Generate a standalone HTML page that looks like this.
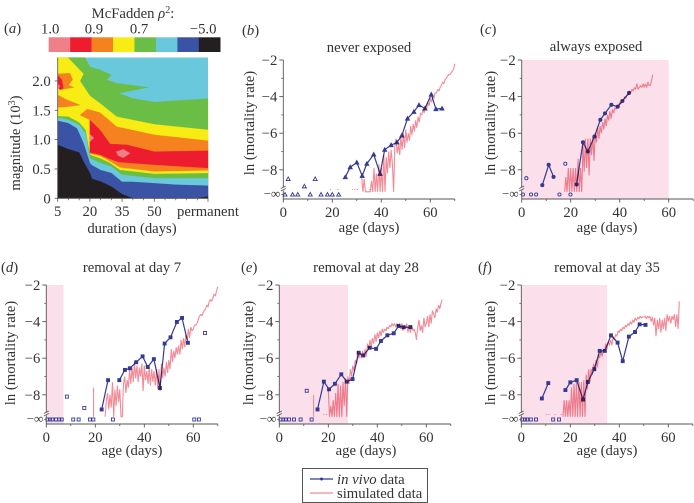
<!DOCTYPE html>
<html lang="en">
<head>
<meta charset="utf-8">
<title>McFadden contour and mortality rate panels</title>
<style>
html,body{margin:0;padding:0;background:#fff;}
body{width:694px;height:503px;overflow:hidden;}
svg{display:block;filter:blur(0.35px);}
text{font-family:"Liberation Serif",serif;font-size:14.7px;fill:#333;}
.mid{text-anchor:middle;}
</style>
</head>
<body>
<svg id="figure" width="694" height="503" viewBox="0 0 694 503" xmlns="http://www.w3.org/2000/svg">
  <g id="panel-a"></g>
  <g id="panel-b"></g>
  <g id="panel-c"></g>
  <g id="panel-d"></g>
  <g id="panel-e"></g>
  <g id="panel-f"></g>

  <text x="4" y="33">(<tspan font-style="italic">a</tspan>)</text>
  <text x="242" y="35">(<tspan font-style="italic">b</tspan>)</text>
  <text x="480" y="34">(<tspan font-style="italic">c</tspan>)</text>
  <text x="1" y="272">(<tspan font-style="italic">d</tspan>)</text>
  <text x="241" y="272">(<tspan font-style="italic">e</tspan>)</text>
  <text x="478" y="272">(<tspan font-style="italic">f</tspan>)</text>

  <text class="mid" x="133" y="18">McFadden <tspan font-style="italic">ρ</tspan><tspan font-size="10" dy="-5">2</tspan><tspan dy="5">:</tspan></text>
  <text class="mid" x="132" y="233">duration (days)</text>
  <text class="mid" transform="translate(20,143) rotate(-90)">magnitude (10<tspan font-size="10" dy="-5">3</tspan><tspan dy="5">)</tspan></text>

  <text class="mid" x="369" y="52">never exposed</text>
  <text class="mid" x="596" y="51">always exposed</text>
  <text class="mid" x="132" y="272">removal at day 7</text>
  <text class="mid" x="366" y="272">removal at day 28</text>
  <text class="mid" x="607" y="272">removal at day 35</text>

  <text class="mid" transform="translate(254,123) rotate(-90)">ln (mortality rate)</text>
  <text class="mid" transform="translate(495,123) rotate(-90)">ln (mortality rate)</text>
  <text class="mid" transform="translate(15,353) rotate(-90)">ln (mortality rate)</text>
  <text class="mid" transform="translate(253,353) rotate(-90)">ln (mortality rate)</text>
  <text class="mid" transform="translate(495,353) rotate(-90)">ln (mortality rate)</text>

  <text class="mid" x="369" y="232">age (days)</text>
  <text class="mid" x="607" y="232">age (days)</text>
  <text class="mid" x="132" y="455">age (days)</text>
  <text class="mid" x="366" y="455">age (days)</text>
  <text class="mid" x="607" y="455">age (days)</text>

  <g>
    <rect x="302.5" y="468.5" width="125" height="34" fill="#fff" stroke="#555" stroke-width="1"/>
    <line x1="310" y1="479" x2="333" y2="479" stroke="#343a94" stroke-width="1.2"/>
    <circle cx="321.5" cy="479" r="1.5" fill="#343a94"/>
    <text x="337" y="484"><tspan font-style="italic">in vivo</tspan> data</text>
    <line x1="310" y1="493" x2="333" y2="493" stroke="#f28b97" stroke-width="1.2"/>
    <text x="337" y="498">simulated data</text>
  </g>
</svg>

<script>
// ---------- Panel (a): contour boundaries, duration (days) and magnitude (10^3) ----------
var colorbarColors = ['#f08088', '#ed1c2e', '#f5821f', '#f7ec13', '#6abd45', '#6ac8dc', '#3a53a4', '#231f20'];
var colorbarLabels = ['1.0', '0.9', '0.7', '−5.0'];
var colorbarLabelCells = [0.07, 2.11, 4.21, 7.2];
var magnitudeTicks = [0, 0.5, 1.0, 1.5, 2.0];
var magnitudeTickLabels = ['0', '0.5', '1.0', '1.5', '2.0'];
var durationTicks = [5, 20, 35, 50, 75];
var durationTickLabels = ['5', '20', '35', '50', 'permanent'];
var durationMinorTicks = [10, 15, 25, 30, 40, 45, 55, 60, 65, 70];

var greenCeilDur = [5, 17.7, 20, 24.7, 30, 27.8, 32.5, 47.2, 33.3, 40.2, 50, 75];
var greenCeilMag = [2.4, 2.4, 2.24, 2.19, 2.1, 2.02, 1.96, 1.89, 1.79, 1.70, 1.64, 1.7];
var yellowCeilDur = [5, 9.7, 17, 15.4, 20, 24.7, 32.5, 50, 75];
var yellowCeilMag = [2.4, 2.4, 2.12, 2.0, 1.745, 1.62, 1.39, 1.26, 1.165];
var orangeIslandDur = [5, 10.7, 12, 10, 12.6, 6.1, 5];
var orangeIslandMag = [2.12, 2.13, 2.02, 1.93, 1.89, 1.85, 1.89];
var redIslandDur = [5, 6.9, 7.6, 6.1, 5];
var redIslandMag = [2.1, 2.02, 1.875, 1.85, 1.9];
var pinkIslandDur = [5, 6.1, 5];
var pinkIslandMag = [1.96, 1.9, 1.87];
var orangeLowIslandDur = [5, 9.2, 15.4, 9.2, 5];
var orangeLowIslandMag = [1.76, 1.68, 1.59, 1.56, 1.55];
var orangeMainDur = [15.4, 18.8, 24.7, 32.5, 50, 75, 75, 20, 20];
var orangeMainMag = [1.42, 1.52, 1.46, 1.22, 1.08, 0.98, 0.3, 0.3, 1.335];
var redMainDur = [20, 24.7, 29.4, 37.2, 50, 75, 75, 20];
var redMainMag = [1.335, 1.165, 0.926, 0.91, 0.795, 0.81, 0.3, 0.3];
var pinkSmallDur = [20, 21.9, 20];
var pinkSmallMag = [1.09, 1.03, 0.966];
var pinkDiamondDur = [32.2, 35.6, 38.7, 35.6, 33.3];
var pinkDiamondMag = [0.795, 0.835, 0.767, 0.693, 0.722];
var orangeLowDur = [20, 24.7, 29.4, 33.3, 50, 75];
var orangeLowMag = [0.778, 0.739, 0.665, 0.614, 0.568, 0.511];
var yellowLowDur = [20, 24.7, 29.4, 34, 50, 75];
var yellowLowMag = [0.756, 0.72, 0.625, 0.523, 0.455, 0.47];
var greenLowDur = [5, 10, 15, 18, 20, 24.7, 29.4, 34, 50, 75];
var greenLowMag = [1.4, 1.39, 1.29, 1.16, 0.74, 0.68, 0.6, 0.48, 0.415, 0.426];
var cyanLowDur = [5, 10, 15, 18, 20, 25, 30, 35, 40, 50, 75];
var cyanLowMag = [1.375, 1.335, 1.25, 1.1, 0.68, 0.6, 0.54, 0.4, 0.38, 0.34, 0.34];
var blueLowDur = [5, 10, 14, 17, 20, 21, 25, 30, 35, 40, 50, 60, 75];
var blueLowMag = [1.32, 1.28, 1.19, 0.94, 0.6, 0.56, 0.48, 0.43, 0.28, 0.28, 0.255, 0.23, 0.215];
var blackLowDur = [5, 10, 15, 17, 20, 21, 25, 30, 35, 40, 70, 75];
var blackLowMag = [0.91, 0.835, 0.78, 0.625, 0.43, 0.33, 0.284, 0.2, 0.07, 0, 0, 0.03];

// ---------- Panels (b)-(f): mortality data ----------
var ageTicks = [0, 20, 40, 60];
var ageTickLabels = ['0', '20', '40', '60'];
var ageMinorTicks = [10, 30, 50, 70];
var rateTicks = [-2, -4, -6, -8];
var rateTickLabels = ['−2', '−4', '−6', '−8'];
var rateMinorTicks = [-3, -5, -7];
var infinityLabel = '−∞';
var infinityRate = -9.35;
var simFloorRate = -9.2;
var simStepDays = 0.5;

var bVivoAges = [2, null, 8.6, null, 13, null, 25.3, 27.3, 30, 32.2, 34.1, 36.9, 39.5, 41.4, 44, 46.4, 48.4, 50.7, 53.3, 55.4, 57.8, 60.4, 62.3, 64.8];
var bVivoRates = [-8.5, null, -8.9, null, -8.5, null, -8.4, -7.86, -7.6, -8.33, -7.67, -7.16, -8.22, -6.9, -6.65, -6.5, -6.12, -5.2, -4.83, -4.46, -4.65, -3.88, -4.68, -4.65];
var bInfAges = [0.7, 3.8, 5.9, 11, 15.4, 18, 20, 22.6];
var bSimStart = 32;
var bSimRates = [
  -8.4, -9.2, -8.5, -9.2, -9.2, -9.2, -9.2, -9.2, -8.6, -9.2,
  -7.9, -9.2, -8.2, -9.2, -7.7, -9.2, -7.9, -9.2, -7.2, -9.2,
  -7.3, -8.2, -7.0, -7.9, -6.9, -7.6, -9.2, -6.7, -6.3, -7.1,
  -6.6, -7.2, -6.2, -6.9, -6.0, -6.8, -5.8, -6.5, -6.0, -6.4,
  -5.6, -6.1, -5.5, -5.9, -5.3, -5.7, -5.1, -5.4, -4.9, -5.0,
  -4.7, -4.9, -4.5, -4.7, -4.3, -4.5, -4.1, -4.3, -4.0, -4.1,
  -3.8, -3.8, -3.6, -3.7, -3.5, -3.4, -3.2, -3.3, -3.1, -3.0,
  -2.9, -2.8, -2.8, -2.7, -2.6, -2.5, -2.2
];
var bSimDots = [19, 22, 28, 29, 30, 35];

var cVivoAges = [1.9, null, 8.4, 11, 13, null, 17.8, null, 22.4, 25, 27, 29.7, 32.1, 34, 36.6, 39.2, 41.1, 43.8];
var cVivoRates = [-8.46, null, -8.84, -7.73, -8.39, null, -7.67, null, -8.8, -6.5, -7.0, -6.18, -5.27, -4.92, -4.45, -4.55, -4.24, -3.8];
var cInfAges = [0.5, 3.8, 5.9, 15.4, 19.9];
var cSimStart = 17.5;
var cSimRates = [
  -9.2, -8.4, -9.2, -7.9, -9.2, -7.9, -9.2, -7.9, -9.2, -7.9,
  -9.2, -7.4, -9.2, -7.9, -9.2, -6.6, -8.1, -6.3, -7.9, -6.3,
  -8.3, -6.3, -7.2, -6.2, -7.5, -6.0, -6.5, -5.7, -6.3, -5.6,
  -6.0, -5.4, -5.8, -5.2, -5.6, -5.0, -5.3, -4.8, -5.2, -4.7,
  -4.9, -4.6, -4.7, -4.5, -4.5, -4.3, -4.4, -4.2, -4.2, -4.0,
  -4.1, -3.9, -3.9, -3.7, -3.8, -3.6, -3.7, -3.5, -3.6, -3.3,
  -3.6, -3.5, -3.4, -3.5, -3.3, -3.5, -3.3, -3.5, -3.2, -3.4,
  -3.4, -3.1, -2.8
];
var cSimDots = [];

var dVivoAges = [8.4, null, 15.5, null, 22.6, 25.2, null, 29.8, 32.1, 34.1, 36.7, 39.3, 41.4, 43.9, 46.4, 48.3, 50.7, 53.3, 55.4, 57.8, null, 64.8];
var dVivoRates = [-8.1, null, -8.72, null, -8.8, -7.2, null, -7.2, -6.64, -6.55, -6.22, -5.9, -6.48, -6.05, -7.63, -5.2, -4.86, -4.02, -3.8, -5.16, null, -4.62];
var dInfAges = [0.5, 1.5, 2.5, 4, 5.3, 6.3, 11, 13.2, 17.8, 19.2, 27.2, 60.4, 62.3];
var dSimStart = 24;
var dSimRates = [
  -9.2, -8.3, -7.9, -8.8, -8.0, -8.7, -7.3, -9.2, -7.7, -8.6,
  -7.5, -8.4, -7.7, -9.2, -9.2, -7.4, -7.0, -7.9, -7.2, -7.6,
  -6.6, -7.4, -6.5, -7.3, -6.2, -7.1, -6.4, -7.3, -6.5, -7.0,
  -6.3, -7.8, -6.4, -7.2, -6.7, -7.4, -6.5, -7.5, -6.6, -7.3,
  -6.7, -7.5, -6.6, -7.7, -6.6, -7.8, -6.3, -7.1, -6.5, -7.0,
  -6.2, -6.8, -6.1, -6.6, -5.5, -6.2, -5.6, -6.0, -5.4, -5.8,
  -5.3, -5.8, -5.0, -5.5, -4.9, -5.4, -4.7, -5.0, -4.4, -4.9,
  -4.3, -4.5, -4.4, -4.2, -4.2, -4.1, -3.9, -3.7, -3.6, -3.7,
  -3.5, -3.4, -3.3, -3.1, -3.2, -2.9, -2.8, -2.9, -2.7, -2.5,
  -2.6, -2.3, -2.1
];
var dSimDots = [];
var dSimSpikeAges = [19.3];
var dSimSpikeRates = [-7.6];

var eVivoAges = [11.2, null, 15.6, 18.2, 20.3, 22.7, 25.3, 27.5, 29.9, 32.4, 34.3, 36.9, 39.5, 41.5, 44.1, 46.7, 48.7, 50.7, 53.5];
var eVivoRates = [-7.78, null, -8.8, -7.28, -7.7, -7.4, -6.88, -7.28, -7.14, -5.7, -5.85, -5.43, -5.49, -5.06, -4.75, -4.64, -4.24, -4.31, -4.3];
var eInfAges = [0.5, 1.6, 2.6, 4, 6, 8.7, 13.2];
var eSimStart = 20;
var eSimRates = [
  -7.7, -9.2, -8.6, -9.2, -8.3, -9.2, -7.9, -9.2, -7.4, -9.2,
  -7.5, -9.2, -7.3, -8.6, -7.1, -9.2, -7.0, -7.4, -6.6, -7.0,
  -6.4, -6.7, -6.1, -6.3, -5.6, -6.0, -5.7, -6.0, -5.6, -5.9,
  -5.5, -5.9, -5.2, -5.5, -5.0, -5.4, -4.9, -5.2, -4.7, -5.1,
  -4.6, -4.9, -4.5, -4.8, -4.4, -4.6, -4.4, -4.5, -4.3, -4.4,
  -4.2, -4.3, -4.1, -4.25, -4.1, -4.3, -4.1, -4.3, -4.1, -4.4,
  -4.1, -4.5, -4.2, -4.4, -4.1, -4.6, -4.2, -4.6, -4.2, -4.5,
  -4.4, -4.6, -5.0, -4.3, -3.9, -4.5, -4.2, -4.6, -3.8, -4.3,
  -4.1, -3.7, -4.3, -3.6, -4.1, -3.4, -3.6, -3.8, -3.3, -3.5,
  -3.1, -3.3, -3.0, -2.8
];
var eSimDots = [18, 19];
var eSimSpikeAges = [14];
var eSimSpikeRates = [-8.0];

var fVivoAges = [8.4, 11, null, 18, 20, 22.6, 25.2, 27.2, 29.8, 32, 34.1, 36.6, 39.3, 41.4, 43.9, 46.4, 48.3, 50.7];
var fVivoRates = [-8.2, -7.36, null, -7.74, -7.32, -7.2, -8.26, -7.3, -6.6, -5.6, -5.6, -4.75, -5.15, -6.16, -4.82, -4.57, -4.15, -4.18];
var fInfAges = [0.4, 1.5, 2.4, 3.9, 6, 13, 15.4];
var fSimStart = 17;
var fSimRates = [
  -9.2, -8.3, -9.2, -8.3, -9.2, -8.3, -9.2, -7.6, -9.2, -7.4,
  -9.2, -7.3, -9.2, -7.3, -9.2, -7.3, -9.2, -7.2, -9.2, -6.9,
  -7.7, -6.6, -7.3, -6.6, -6.9, -6.3, -6.7, -6.1, -6.5, -5.8,
  -6.0, -5.6, -5.9, -5.5, -5.6, -5.2, -5.5, -5.1, -5.3, -5.0,
  -5.3, -4.8, -5.0, -4.7, -4.8, -4.5, -4.6, -4.4, -4.5, -4.3,
  -4.4, -4.2, -4.3, -4.1, -4.2, -4.0, -4.15, -3.9, -4.05, -3.8,
  -3.95, -3.75, -3.85, -3.7, -3.8, -3.75, -3.75, -3.7, -3.85, -3.7,
  -3.8, -3.7, -4.0, -3.75, -4.2, -3.8, -4.8, -3.9, -4.4, -3.8,
  -4.6, -3.9, -4.4, -3.8, -4.5, -3.6, -4.0, -3.7, -4.1, -3.7,
  -3.9, -3.6, -4.3, -3.6, -4.4, -2.9
];
var fSimDots = [10, 11, 13.5, 16];

var NS = 'http://www.w3.org/2000/svg';
var AXIS = '#555';
var VIVO = '#343a94';
var SIM = '#f28b97';
var SHADE = '#fbe0ec';

function make(parent, tag, attrs, txt) {
  var node = document.createElementNS(NS, tag);
  for (var k in attrs) { node.setAttribute(k, attrs[k]); }
  if (txt !== undefined) { node.textContent = txt; }
  parent.appendChild(node);
  return node;
}

// ---------- Panel (a) drawing ----------
var gA = document.getElementById('panel-a');
function xDuration(d) { return 57.7 + (d - 5) * 2.147; }
function yMagnitude(m) { return 198.3 - m * 58.67; }
function bandPoints(durs, mags, closeDur) {
  var pts = durs.map(function (d, i) { return xDuration(d).toFixed(1) + ',' + yMagnitude(mags[i]).toFixed(1); });
  if (closeDur !== undefined) {
    pts.push(xDuration(75).toFixed(1) + ',' + yMagnitude(0).toFixed(1));
    pts.push(xDuration(closeDur).toFixed(1) + ',' + yMagnitude(0).toFixed(1));
  }
  return pts.join(' ');
}
function drawBand(durs, mags, color, closeDur) {
  var band = make(gA, 'polygon', { points: bandPoints(durs, mags, closeDur), fill: color, stroke: color, 'stroke-width': 0.3 });
  
  
}
var plotBg = make(gA, 'rect', { x: xDuration(5), y: yMagnitude(2.4), width: xDuration(75) - xDuration(5), height: yMagnitude(0) - yMagnitude(2.4), fill: colorbarColors[5] });



drawBand(greenCeilDur, greenCeilMag, colorbarColors[4], 5);
drawBand(yellowCeilDur, yellowCeilMag, colorbarColors[3], 5);
drawBand(orangeIslandDur, orangeIslandMag, colorbarColors[2]);
drawBand(redIslandDur, redIslandMag, colorbarColors[1]);
drawBand(pinkIslandDur, pinkIslandMag, colorbarColors[0]);
drawBand(orangeLowIslandDur, orangeLowIslandMag, colorbarColors[2]);
drawBand(orangeMainDur, orangeMainMag, colorbarColors[2]);
drawBand(redMainDur, redMainMag, colorbarColors[1]);
drawBand(pinkSmallDur, pinkSmallMag, colorbarColors[0]);
drawBand(pinkDiamondDur, pinkDiamondMag, colorbarColors[0]);
drawBand(orangeLowDur, orangeLowMag, colorbarColors[2], 20);
drawBand(yellowLowDur, yellowLowMag, colorbarColors[3], 20);
drawBand(greenLowDur, greenLowMag, colorbarColors[4], 5);
drawBand(cyanLowDur, cyanLowMag, colorbarColors[5], 5);
drawBand(blueLowDur, blueLowMag, colorbarColors[6], 5);
drawBand(blackLowDur, blackLowMag, colorbarColors[7], 5);

var barLeft = 48.7, barCell = 21.45;
colorbarColors.forEach(function (c, i) {
  var cell = make(gA, 'rect', { x: barLeft + i * barCell, y: 37.3, width: barCell + 0.2, height: 14.7, fill: c });
  
  
});
colorbarLabels.forEach(function (t, i) {
  var lab = make(gA, 'text', { x: barLeft + colorbarLabelCells[i] * barCell, y: 33.5, 'text-anchor': 'middle' }, t);
  
  
});
var aBase = yMagnitude(0), aLeft = xDuration(5);
magnitudeTicks.forEach(function (m, i) {
  var t = make(gA, 'line', { x1: aLeft - 3, x2: aLeft, y1: yMagnitude(m), y2: yMagnitude(m), stroke: AXIS, 'stroke-width': 0.8 });
  
  
  var lab = make(gA, 'text', { x: aLeft - 7, y: yMagnitude(m) + 5, 'text-anchor': 'end' }, magnitudeTickLabels[i]);
  
  
});
durationTicks.forEach(function (d, i) {
  var t = make(gA, 'line', { x1: xDuration(d), x2: xDuration(d), y1: aBase, y2: aBase + 3.5, stroke: AXIS, 'stroke-width': 0.8 });
  
  
  var lab = make(gA, 'text', { x: i === 4 ? 208 : xDuration(d), y: 216, 'text-anchor': 'middle' }, durationTickLabels[i]);
  
  
});
durationMinorTicks.forEach(function (d) {
  var t = make(gA, 'line', { x1: xDuration(d), x2: xDuration(d), y1: aBase, y2: aBase + 2, stroke: AXIS, 'stroke-width': 0.7 });
  
  
});
var aFrame = make(gA, 'path', { d: 'M' + aLeft + ' ' + yMagnitude(2.4) + 'V' + aBase + 'H' + xDuration(75), fill: 'none', stroke: AXIS, 'stroke-width': 0.8 });



// ---------- Panels (b)-(f) drawing ----------
function marker(g, shape, x, y, filled) {
  var fill = filled ? VIVO : 'none';
  var m;
  if (shape === 'triangle') {
    m = make(g, 'polygon', { points: (x - 2) + ',' + (y + 1.6) + ' ' + (x + 2) + ',' + (y + 1.6) + ' ' + x + ',' + (y - 2), fill: fill, stroke: VIVO, 'stroke-width': 0.9 });
  } else if (shape === 'circle') {
    m = make(g, 'circle', { cx: x, cy: y, r: 1.6, fill: fill, stroke: VIVO, 'stroke-width': 0.9 });
  } else {
    m = make(g, 'rect', { x: x - 1.5, y: y - 1.5, width: 3, height: 3, fill: fill, stroke: VIVO, 'stroke-width': 0.9 });
  }
  
  
}

function drawPanel(cfg) {
  var g = document.getElementById(cfg.id);
  function xAge(a) { return cfg.left + a * 2.45; }
  function yRate(v) { return cfg.top + (-2 - v) * 18.3; }
  var bottom = cfg.top + 139;

  if (cfg.shadeTo > 0) {
    var shade = make(g, 'rect', { x: xAge(0), y: yRate(-2), width: xAge(cfg.shadeTo) - xAge(0), height: bottom - yRate(-2), fill: SHADE });
    
    
  }

  // in vivo line segments, broken at null entries
  var seg = [];
  function flush() {
    if (seg.length > 1) {
      var line = make(g, 'polyline', { points: seg.map(function (p) { return p[0].toFixed(1) + ',' + p[1].toFixed(1); }).join(' '), fill: 'none', stroke: VIVO, 'stroke-width': 1.2 });
      
      
    }
    seg.forEach(function (p) { marker(g, cfg.shape, p[0], p[1], seg.length > 1); });
    seg = [];
  }
  cfg.vivoAges.forEach(function (a, i) {
    if (a === null) { flush(); } else { seg.push([xAge(a), yRate(cfg.vivoRates[i])]); }
  });
  flush();
  cfg.infAges.forEach(function (a) { marker(g, cfg.shape, xAge(a), yRate(infinityRate), false); });

  // simulated series
  var simPts = cfg.simRates.map(function (v, i) {
    return xAge(cfg.simStart + i * simStepDays).toFixed(1) + ',' + yRate(v).toFixed(1);
  });
  var sim = make(g, 'polyline', { points: simPts.join(' '), fill: 'none', stroke: SIM, 'stroke-width': 1.1, 'stroke-linejoin': 'bevel', style: 'mix-blend-mode:multiply' });
  
  

  (cfg.spikeAges || []).forEach(function (a, i) {
    var sp = make(g, 'line', { x1: xAge(a), x2: xAge(a), y1: yRate(cfg.spikeRates[i]), y2: yRate(simFloorRate), stroke: SIM, 'stroke-width': 1.1 });
    
    
  });
  cfg.simDots.forEach(function (a) {
    var dot = make(g, 'rect', { x: xAge(a), y: yRate(-9.05), width: 1.2, height: 1, fill: SIM });
    
    
  });

  // axes
  var left = xAge(0), breakY = yRate(-9.05);
  var yAxisTop = make(g, 'line', { x1: left, x2: left, y1: yRate(-2), y2: breakY - 1.5, stroke: AXIS, 'stroke-width': 0.9 });
  
  
  var yAxisLow = make(g, 'line', { x1: left, x2: left, y1: breakY + 1.5, y2: bottom, stroke: AXIS, 'stroke-width': 0.9 });
  
  
  var xAxis = make(g, 'line', { x1: left, x2: xAge(70), y1: bottom, y2: bottom, stroke: AXIS, 'stroke-width': 0.9 });
  
  
  var brk = make(g, 'path', { d: 'M' + (left - 2.5) + ' ' + (breakY - 0.5) + 'l5 -2.5M' + (left - 2.5) + ' ' + (breakY + 2) + 'l5 -2.5', fill: 'none', stroke: AXIS, 'stroke-width': 0.8 });
  
  

  rateTicks.forEach(function (v, i) {
    var t = make(g, 'line', { x1: left - 4, x2: left, y1: yRate(v), y2: yRate(v), stroke: AXIS, 'stroke-width': 0.9 });
    
    
    var lab = make(g, 'text', { x: left - 6, y: yRate(v) + 5, 'text-anchor': 'end' }, rateTickLabels[i]);
    
    
  });
  rateMinorTicks.forEach(function (v) {
    var t = make(g, 'line', { x1: left - 2, x2: left, y1: yRate(v), y2: yRate(v), stroke: AXIS, 'stroke-width': 0.8 });
    
    
  });
  var infTick = make(g, 'line', { x1: left - 2, x2: left, y1: yRate(infinityRate), y2: yRate(infinityRate), stroke: AXIS, 'stroke-width': 0.8 });
  
  
  var infLab = make(g, 'text', { x: left - 3, y: yRate(infinityRate) + 3.5, 'text-anchor': 'end', style: 'font-size:13px' }, infinityLabel);
  
  

  ageTicks.forEach(function (a, i) {
    var t = make(g, 'line', { x1: xAge(a), x2: xAge(a), y1: bottom, y2: bottom + 3.5, stroke: AXIS, 'stroke-width': 0.9 });
    
    
    var lab = make(g, 'text', { x: xAge(a), y: bottom + 18, 'text-anchor': 'middle' }, ageTickLabels[i]);
    
    
  });
  ageMinorTicks.forEach(function (a) {
    var t = make(g, 'line', { x1: xAge(a), x2: xAge(a), y1: bottom, y2: bottom + 2, stroke: AXIS, 'stroke-width': 0.8 });
    
    
  });
}

drawPanel({ id: 'panel-b', left: 283.3, top: 60, shape: 'triangle', shadeTo: 0, vivoAges: bVivoAges, vivoRates: bVivoRates, infAges: bInfAges, simStart: bSimStart, simRates: bSimRates, simDots: bSimDots });
drawPanel({ id: 'panel-c', left: 521.7, top: 60, shape: 'circle', shadeTo: 60, vivoAges: cVivoAges, vivoRates: cVivoRates, infAges: cInfAges, simStart: cSimStart, simRates: cSimRates, simDots: cSimDots });
drawPanel({ id: 'panel-d', left: 46.3, top: 285, shape: 'square', shadeTo: 7, vivoAges: dVivoAges, vivoRates: dVivoRates, infAges: dInfAges, simStart: dSimStart, simRates: dSimRates, simDots: dSimDots, spikeAges: dSimSpikeAges, spikeRates: dSimSpikeRates });
drawPanel({ id: 'panel-e', left: 279.3, top: 285, shape: 'square', shadeTo: 28, vivoAges: eVivoAges, vivoRates: eVivoRates, infAges: eInfAges, simStart: eSimStart, simRates: eSimRates, simDots: eSimDots, spikeAges: eSimSpikeAges, spikeRates: eSimSpikeRates });
drawPanel({ id: 'panel-f', left: 521.3, top: 285, shape: 'square', shadeTo: 35, vivoAges: fVivoAges, vivoRates: fVivoRates, infAges: fInfAges, simStart: fSimStart, simRates: fSimRates, simDots: fSimDots });
</script>
</body>
</html>
